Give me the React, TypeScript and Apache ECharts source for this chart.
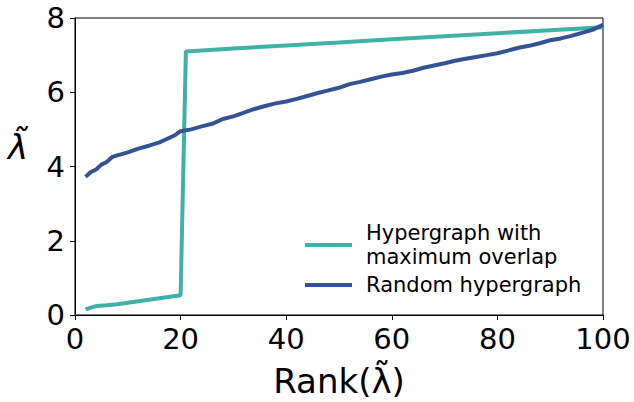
import React, { useEffect, useRef } from "react";
import * as echarts from "echarts";

const overlapRanks = [2, 3, 4, 6, 8, 10, 12, 14, 16, 18, 20, 21, 30, 40, 50, 60, 70, 80, 90, 100];
const overlapValues = [0.15, 0.2, 0.24, 0.26, 0.29, 0.33, 0.37, 0.41, 0.45, 0.49, 0.53, 7.1, 7.18, 7.26, 7.34, 7.43, 7.51, 7.59, 7.67, 7.75];

const randomRanks = [2, 3, 4, 5, 6, 7, 8, 10, 12, 14, 16, 18, 19, 20, 22, 24, 26, 28, 30, 32, 34, 36, 38, 40, 42, 44, 46, 48, 50, 52, 54, 56, 58, 60, 62, 64, 66, 68, 70, 72, 74, 76, 78, 80, 82, 84, 86, 88, 90, 92, 94, 96, 98, 100];
const randomValues = [3.72, 3.85, 3.92, 4.05, 4.12, 4.25, 4.3, 4.38, 4.48, 4.56, 4.65, 4.78, 4.85, 4.95, 5.0, 5.08, 5.15, 5.28, 5.35, 5.45, 5.55, 5.63, 5.7, 5.75, 5.82, 5.9, 5.98, 6.05, 6.12, 6.22, 6.28, 6.35, 6.42, 6.48, 6.52, 6.58, 6.66, 6.72, 6.78, 6.85, 6.9, 6.95, 7.0, 7.05, 7.12, 7.2, 7.25, 7.32, 7.4, 7.45, 7.52, 7.6, 7.68, 7.82];

const seriesNames = ["Hypergraph with\nmaximum overlap", "Random hypergraph"];
const seriesColors = ["#40b1a7", "#345393"];
const xName = "Rank(λ\u0303)";
const yName = "λ\u0303";

const FONT = "DejaVu Sans";

export default function App() {
  const ref = useRef<HTMLDivElement>(null);
  useEffect(() => {
    if (!ref.current) return;
    const chart = echarts.init(ref.current, undefined, { renderer: "svg" });
    const axisLabel = { color: "#000", fontFamily: FONT, fontSize: 29 };
    chart.setOption({
      animation: false,
      backgroundColor: "#fff",
      grid: {
        left: 75,
        right: 31,
        top: 18,
        bottom: 87,
        show: true,
        borderColor: "#000",
        borderWidth: 1,
        outerBoundsMode: "none",
        containLabel: false,
      },
      xAxis: {
        type: "value",
        min: 0,
        max: 100,
        interval: 20,
        name: xName,
        nameLocation: "middle",
        nameGap: 49,
        nameTextStyle: { color: "#000", fontFamily: FONT, fontSize: 34 },
        axisLine: { show: true, lineStyle: { color: "#000", width: 1 } },
        axisTick: { show: true, length: 5, lineStyle: { color: "#000" } },
        axisLabel: { ...axisLabel, margin: 9 },
        splitLine: { show: false },
      },
      yAxis: {
        type: "value",
        min: 0,
        max: 8,
        interval: 2,
        axisLine: { show: true, lineStyle: { color: "#000", width: 1 } },
        axisTick: { show: true, length: 5, lineStyle: { color: "#000" } },
        axisLabel: { ...axisLabel, margin: 10 },
        splitLine: { show: false },
      },
      legend: {
        orient: "vertical",
        left: 300,
        top: 216,
        icon: "rect",
        itemWidth: 47,
        itemHeight: 4,
        itemGap: 4,
        textStyle: { color: "#000", fontFamily: FONT, fontSize: 21, lineHeight: 24, padding: [0, 0, 0, 9] },
        data: seriesNames,
      },
      graphic: [
        {
          type: "text",
          left: 8,
          top: 130,
          style: { text: yName, fontFamily: FONT, fontSize: 34, fontStyle: "italic", fill: "#000" },
        },
      ],
      series: [
        {
          name: seriesNames[0],
          type: "line",
          data: overlapRanks.map((r, i) => [r, overlapValues[i]]),
          showSymbol: false,
          lineStyle: { color: seriesColors[0], width: 4 },
          itemStyle: { color: seriesColors[0] },
        },
        {
          name: seriesNames[1],
          type: "line",
          data: randomRanks.map((r, i) => [r, randomValues[i]]),
          showSymbol: false,
          lineStyle: { color: seriesColors[1], width: 4 },
          itemStyle: { color: seriesColors[1] },
        },
      ],
    });
    return () => chart.dispose();
  }, []);
  return <div ref={ref} style={{ width: 634, height: 402, position: "absolute", left: 0, top: 0 }} />;
}
